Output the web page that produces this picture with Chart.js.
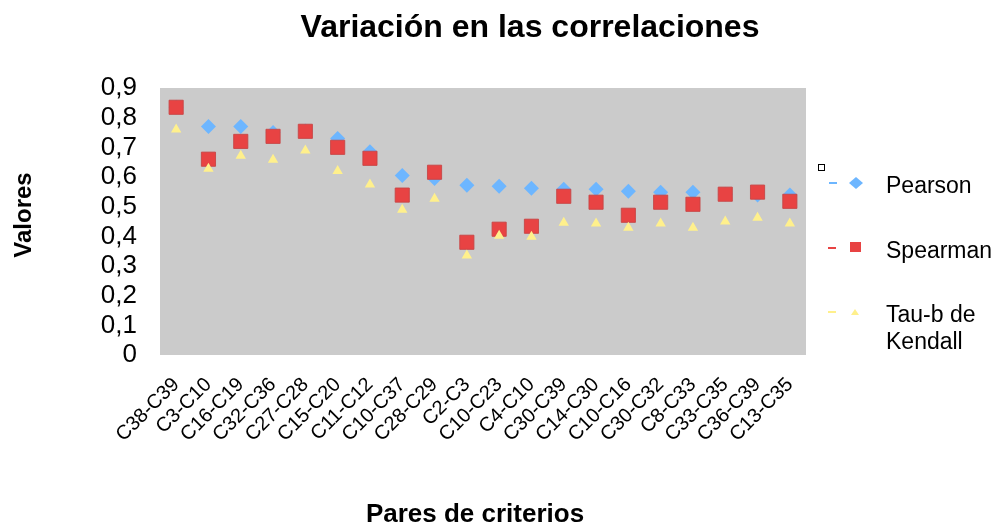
<!DOCTYPE html>
<html>
<head>
<meta charset="utf-8">
<script src="https://cdn.jsdelivr.net/npm/chart.js@4"></script>
<style>
body { margin: 0; background: #fff; font-family: "Liberation Sans", Arial, sans-serif; }
#wrap { position: relative; width: 998px; height: 525px; overflow: hidden; }
#chart { position: absolute; left: 0; top: 0; }
.txt { position: absolute; white-space: nowrap; color: #000; }
.bold { font-weight: bold; }
.leg { position: absolute; left: 886px; font-size: 23px; line-height: 27px; }
</style>
</head>
<body>
<div id="wrap">
  <canvas id="chart" width="998" height="525"></canvas>
  <div class="txt bold" style="font-size:32px;line-height:32px;left:530px;top:10px;transform:translateX(-50%);">Variación en las correlaciones</div>
  <div class="txt bold" style="font-size:26px;line-height:26px;left:475px;top:500px;transform:translateX(-50%);">Pares de criterios</div>
  <div class="txt bold" style="font-size:24px;line-height:24px;left:23px;top:215px;transform:translate(-50%,-50%) rotate(-90deg);">Valores</div>

  <svg style="position:absolute;left:0;top:0;" width="998" height="525">
    <rect x="818.5" y="164.5" width="6" height="6" fill="#fff" stroke="#000" stroke-width="1"/>
    <rect x="829" y="182" width="8" height="2" fill="#6db6ff"/>
    <polygon points="856,177 863,183 856,189 849,183" fill="#6db6ff"/>
    <rect x="828" y="247" width="8" height="2" fill="#e84343"/>
    <rect x="850" y="242" width="11" height="10" fill="#e84343"/>
    <rect x="828" y="311" width="8" height="2" fill="#fff08c"/>
    <polygon points="855,309 859,315 851,315" fill="#fff08c"/>
  </svg>
  <div class="leg" style="top:172px;">Pearson</div>
  <div class="leg" style="top:237px;">Spearman</div>
  <div class="leg" style="top:301px;">Tau-b de<br>Kendall</div>
</div>
<script>
// pares de criterios y coeficientes
const categories = ['C38-C39','C3-C10','C16-C19','C32-C36','C27-C28','C15-C20','C11-C12','C10-C37','C28-C29','C2-C3',
  'C10-C23','C4-C10','C30-C39','C14-C30','C10-C16','C30-C32','C8-C33','C33-C35','C36-C39','C13-C35'];
const pearson = [0.835,0.77,0.77,0.75,0.755,0.73,0.685,0.605,0.595,0.572,0.569,0.562,0.559,0.559,0.552,0.549,0.549,0.542,0.539,0.539];
const spearman = [0.835,0.66,0.72,0.737,0.754,0.70,0.663,0.539,0.616,0.38,0.424,0.434,0.535,0.515,0.471,0.515,0.508,0.542,0.549,0.518];
const kendall = [0.76,0.628,0.672,0.658,0.689,0.62,0.575,0.49,0.527,0.335,0.402,0.399,0.446,0.443,0.429,0.443,0.429,0.45,0.463,0.443];
const yTickLabels = ['0','0,1','0,2','0,3','0,4','0,5','0,6','0,7','0,8','0,9'];

const plotBg = {
  id: 'plotBg',
  beforeDraw(chart) {
    const {ctx, chartArea} = chart;
    ctx.save();
    ctx.fillStyle = '#cbcbcb';
    ctx.fillRect(chartArea.left, chartArea.top, chartArea.right - chartArea.left, chartArea.bottom - chartArea.top);
    ctx.restore();
  }
};

const ctx = document.getElementById('chart').getContext('2d');
const myChart = new Chart(ctx, {
  type: 'line',
  data: {
    labels: categories,
    datasets: [{
      label: 'Pearson',
      data: pearson,
      showLine: false,
      order: 3,
      pointStyle: 'rectRot',
      pointRadius: 7.5,
      backgroundColor: '#6db6ff',
      borderColor: '#6db6ff',
      pointBorderWidth: 0
    }, {
      label: 'Spearman',
      data: spearman,
      showLine: false,
      order: 2,
      pointStyle: 'rect',
      pointRadius: 10,
      backgroundColor: '#e84343',
      borderColor: 'rgba(200,70,70,0.9)',
      pointBorderWidth: 1
    }, {
      label: 'Tau-b de Kendall',
      data: kendall,
      showLine: false,
      order: 1,
      pointStyle: 'triangle',
      pointRadius: 6,
      backgroundColor: '#fff08c',
      borderColor: '#fff08c',
      pointBorderWidth: 0
    }]
  },
  options: {
    responsive: false,
    animation: false,
    events: [],
    layout: { padding: { left: 0, right: 192, top: 88, bottom: 0 } },
    plugins: {
      legend: { display: false },
      title: { display: false },
      tooltip: { enabled: false }
    },
    scales: {
      x: {
        type: 'category',
        offset: true,
        grid: { display: false, drawTicks: false },
        border: { display: false },
        afterFit: (scale) => { scale.height = 170; },
        ticks: {
          autoSkip: false,
          maxRotation: 45,
          minRotation: 45,
          padding: 18,
          color: '#000',
          font: { family: '"Liberation Sans", Arial, sans-serif', size: 20 }
        }
      },
      y: {
        min: 0,
        max: 0.9,
        grid: { display: false, drawTicks: false },
        border: { display: false },
        afterFit: (scale) => { scale.width = 160; },
        ticks: {
          autoSkip: false,
          stepSize: 0.1,
          padding: 23,
          color: '#000',
          font: { family: '"Liberation Sans", Arial, sans-serif', size: 26 },
          callback: (v) => yTickLabels[Math.round(v * 10)]
        }
      }
    }
  },
  plugins: [plotBg]
});
</script>
</body>
</html>
